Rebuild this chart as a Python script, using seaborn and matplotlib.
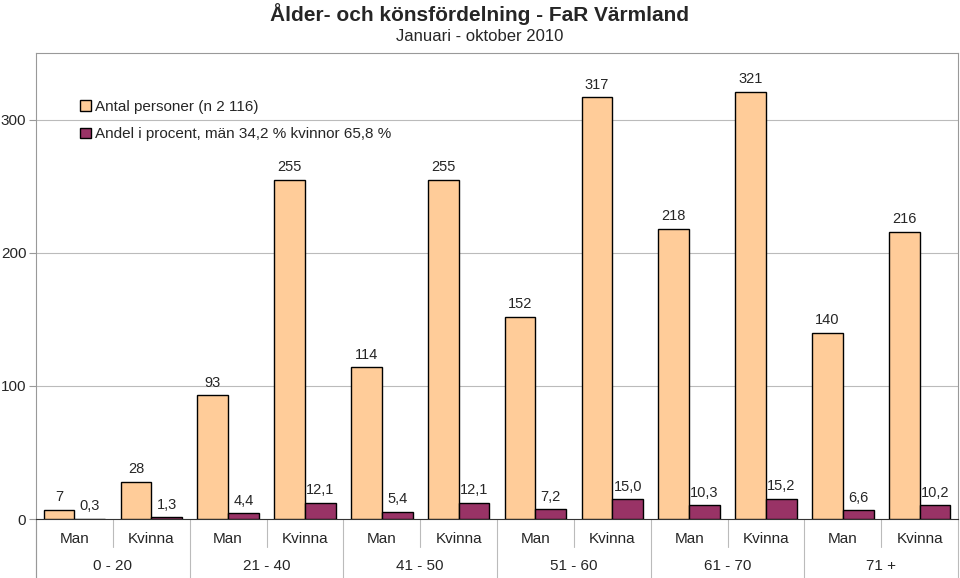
import pandas as pd
import matplotlib.pyplot as plt
import seaborn as sns

ages = ["0 - 20", "21 - 40", "41 - 50", "51 - 60", "61 - 70", "71 +"]
genders = ["Man", "Kvinna"]
antal = [7, 28, 93, 255, 114, 255, 152, 317, 218, 321, 140, 216]
andel = [0.3, 1.3, 4.4, 12.1, 5.4, 12.1, 7.2, 15.0, 10.3, 15.2, 6.6, 10.2]
series = ["Antal personer (n 2 116)", "Andel i procent, män 34,2 % kvinnor 65,8 %"]

cats = [f"{a} {g}" for a in ages for g in genders]
df = pd.DataFrame({
    "Kategori": cats * 2,
    "Värde": antal + andel,
    "Serie": [series[0]] * len(cats) + [series[1]] * len(cats),
})

sns.set_style("white")
plt.rcParams["font.family"] = ["Liberation Sans", "DejaVu Sans"]

fig = plt.figure(figsize=(9.6, 5.78), dpi=100)
ax = fig.add_axes([0.0375, 0.102, 0.9605, 0.806])

sns.barplot(data=df, x="Kategori", y="Värde", hue="Serie", order=cats,
            palette=["#FFCC99", "#993366"], saturation=1, edgecolor="black", linewidth=1,
            width=0.8, errorbar=None, ax=ax, zorder=3)

ax.set_ylim(0, 350)
ax.set_xlim(-0.5, len(cats) - 0.5)
ax.set_yticks([0, 100, 200, 300])
ax.tick_params(axis="y", labelsize=11, length=5, color="#999999", direction="out", left=True, pad=2)
ax.yaxis.grid(True, color="#BBBBBB", linewidth=0.8, zorder=0)
ax.set_xticks([])
ax.set_xlabel("")
ax.set_ylabel("")
for s in ["top", "right", "left"]:
    ax.spines[s].set_color("#999999")
ax.spines["bottom"].set_color("#333333")

# value labels
for cont, fmt in zip(ax.containers, [lambda v: f"{v:.0f}", lambda v: f"{v:.1f}".replace(".", ",")]):
    for p in cont:
        h = p.get_height()
        ax.annotate(fmt(h), (p.get_x() + p.get_width() / 2, h), xytext=(0, 4),
                    textcoords="offset points", ha="center", va="bottom", fontsize=10.5)

# two-level category axis
tr = ax.get_xaxis_transform()
for i, c in enumerate(cats):
    ax.text(i, -0.043, genders[i % 2], transform=tr, ha="center", va="center", fontsize=11)
for j, a in enumerate(ages):
    ax.text(2 * j + 0.5, -0.10, a, transform=tr, ha="center", va="center", fontsize=11)
for k in range(len(cats) + 1):
    x = k - 0.5
    y0 = -0.13 if k % 2 == 0 else -0.06
    ax.plot([x, x], [0, y0], transform=tr, color="#BBBBBB", lw=0.8, clip_on=False)
ax.plot([-0.5, -0.5], [0, -0.13], transform=tr, color="#999999", lw=0.8, clip_on=False)

leg = ax.legend(loc="upper left", bbox_to_anchor=(0.033, 0.93), frameon=False, fontsize=11,
                handlelength=0.7, handleheight=0.7, handletextpad=0.3, labelspacing=0.9)
for h in leg.legend_handles:
    h.set_edgecolor("black")

fig.text(0.5, 0.975, "Ålder- och könsfördelning - FaR Värmland", ha="center", va="center",
         fontsize=15, fontweight="bold")
fig.text(0.5, 0.937, "Januari - oktober 2010", ha="center", va="center", fontsize=12)

fig.savefig("out.png", dpi=100)
